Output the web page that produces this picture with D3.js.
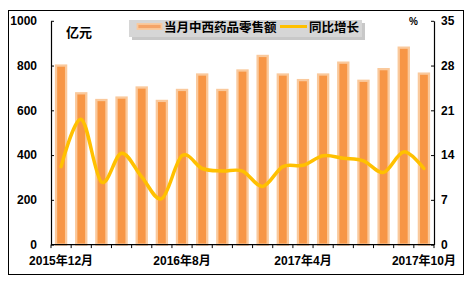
<!DOCTYPE html>
<html>
<head>
<meta charset="utf-8">
<script src="https://cdn.jsdelivr.net/npm/d3@7"></script>
<style>
  html, body { margin: 0; padding: 0; background: #fff; }
  svg { display: block; font-family: "Liberation Sans", "Noto Sans CJK SC", Arial, sans-serif; font-weight: bold; }
</style>
</head>
<body>
<div id="chart"></div>
<script>
const W = 476;
const H = 284;
const PLOT = { left: 51, right: 434, top: 20.8, bottom: 244.6 };

// months (Jan/Feb are not reported separately)
const MONTHS = [
  "2015年12月",
  "2016年3月", "2016年4月", "2016年5月", "2016年6月", "2016年7月", "2016年8月",
  "2016年9月", "2016年10月", "2016年11月", "2016年12月",
  "2017年3月", "2017年4月", "2017年5月", "2017年6月", "2017年7月", "2017年8月",
  "2017年9月", "2017年10月"
];
const SALES = [800, 676, 646, 657, 702, 642, 691, 760, 691, 778, 843, 760, 735, 760, 813, 732, 784, 880, 764];
const GROWTH = [12.2, 19.6, 9.8, 14.3, 10.6, 7.2, 13.9, 11.9, 11.5, 11.5, 9.1, 12.2, 12.4, 13.9, 13.5, 13.1, 11.3, 14.5, 11.9];
const LEFT_TICKS = [0, 200, 400, 600, 800, 1000];
const RIGHT_TICKS = [0, 7, 14, 21, 28, 35];
const LABELED = ["2015年12月", "2016年8月", "2017年4月", "2017年10月"];
const LEGEND = ["当月中西药品零售额", "同比增长"];

const BAR_FILL = "#F79646";
const BAR_EDGE = "#FAC99C";
const LINE_COLOR = "#FFC000";

const svg = d3.select("#chart").append("svg")
  .attr("width", W).attr("height", H)
  .attr("viewBox", `0 0 ${W} ${H}`);

// outer frame
svg.append("rect")
  .attr("x", 8.5).attr("y", 10.5).attr("width", 455).attr("height", 264)
  .attr("fill", "#fff").attr("stroke", "#000").attr("stroke-width", 1);

const x = d3.scaleBand().domain(MONTHS)
  .range([PLOT.left, PLOT.right])
  .paddingInner(0.5).paddingOuter(0.25);
const y = d3.scaleLinear().domain([0, 1000]).range([PLOT.bottom, PLOT.top]);
const y2 = d3.scaleLinear().domain([0, 35]).range([PLOT.bottom, PLOT.top]);
const gap = (x.step() - x.bandwidth()) / 2;

// bars
svg.append("g").attr("class", "bars")
  .selectAll("rect").data(MONTHS).join("rect")
  .attr("x", (m) => x(m))
  .attr("y", (m, i) => y(SALES[i]))
  .attr("width", x.bandwidth())
  .attr("height", (m, i) => y(0) - y(SALES[i]))
  .attr("fill", BAR_FILL)
  .attr("stroke", BAR_EDGE)
  .attr("stroke-width", 2.3);

// growth line
const line = d3.line()
  .x((d, i) => x(MONTHS[i]) + x.bandwidth() / 2)
  .y((d) => y2(d))
  .curve(d3.curveCardinal.tension(0));
svg.append("path")
  .datum(GROWTH)
  .attr("d", line)
  .attr("fill", "none")
  .attr("stroke", LINE_COLOR)
  .attr("stroke-width", 3.5)
  .attr("stroke-linejoin", "round")
  .attr("stroke-linecap", "round");

// left axis
const gl = svg.append("g").attr("transform", `translate(${PLOT.left},0)`)
  .call(d3.axisLeft(y).tickValues(LEFT_TICKS).tickFormat(d3.format("d"))
    .tickSize(-3).tickSizeOuter(0).tickPadding(14));
// right axis
const gr = svg.append("g").attr("transform", `translate(${PLOT.right},0)`)
  .call(d3.axisRight(y2).tickValues(RIGHT_TICKS).tickFormat(d3.format("d"))
    .tickSize(-3).tickSizeOuter(0).tickPadding(7));
[gl, gr].forEach((g) => {
  g.select(".domain").attr("stroke", "#000").attr("stroke-width", 1.2);
  g.selectAll(".tick line").attr("stroke", "#000");
  g.selectAll(".tick text").attr("font-size", 12).attr("font-weight", "bold")
    .attr("font-family", "Liberation Sans, Arial, sans-serif").attr("fill", "#000");
});

// bottom axis: boundary ticks + sparse labels
const gb = svg.append("g").attr("transform", `translate(0,${PLOT.bottom})`);
gb.append("line")
  .attr("x1", PLOT.left).attr("x2", PLOT.right)
  .attr("stroke", "#000").attr("stroke-width", 1.2);
const bounds = MONTHS.map((m) => x(m) - gap).concat([x(MONTHS[MONTHS.length - 1]) + x.bandwidth() + gap]);
gb.selectAll("line.bt").data(bounds).join("line")
  .attr("class", "bt")
  .attr("x1", (d) => d).attr("x2", (d) => d)
  .attr("y1", 0).attr("y2", 3.5)
  .attr("stroke", "#000");
gb.selectAll("text").data(LABELED).join("text")
  .attr("x", (m) => x(m) + x.bandwidth() / 2)
  .attr("y", 16)
  .attr("text-anchor", "middle")
  .attr("dominant-baseline", "central")
  .attr("font-size", 12)
  .attr("fill", "#000")
  .text((m) => m);

// unit labels
svg.append("text").attr("x", 66).attr("y", 32.5)
  .attr("dominant-baseline", "central").attr("font-size", 13).text("亿元");
svg.append("text").attr("x", 409).attr("y", 21.5)
  .attr("dominant-baseline", "central").attr("font-size", 10).text("%");

// legend
const lg = svg.append("g");
lg.append("rect").attr("x", 132).attr("y", 23).attr("width", 233).attr("height", 17)
  .attr("fill", "#9a9a9a").attr("opacity", 0.55);
lg.append("rect").attr("x", 129).attr("y", 20).attr("width", 233).attr("height", 17)
  .attr("fill", "#D6D6D6");
lg.append("rect").attr("x", 137.5).attr("y", 24).attr("width", 24).attr("height", 5)
  .attr("fill", "#F4A468").attr("stroke", BAR_EDGE).attr("stroke-width", 1.8);
lg.append("text").attr("x", 164).attr("y", 27.5)
  .attr("dominant-baseline", "central").attr("font-size", 12.5).text(LEGEND[0]);
lg.append("line").attr("x1", 280).attr("x2", 307).attr("y1", 26.5).attr("y2", 26.5)
  .attr("stroke", LINE_COLOR).attr("stroke-width", 3);
lg.append("text").attr("x", 309).attr("y", 27.5)
  .attr("dominant-baseline", "central").attr("font-size", 12.5).text(LEGEND[1]);
</script>
</body>
</html>
